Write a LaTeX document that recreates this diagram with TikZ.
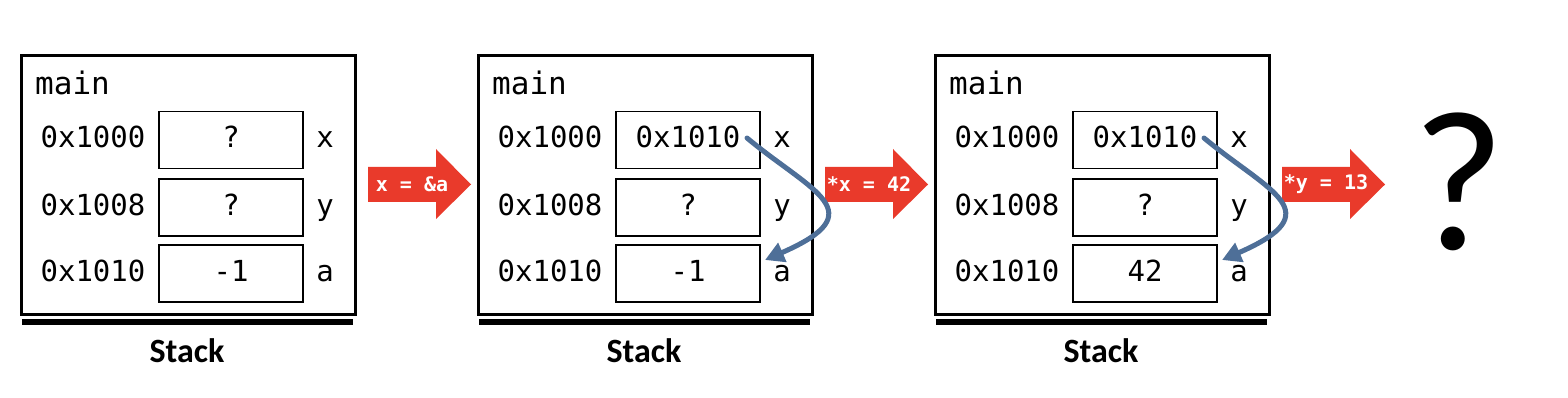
\documentclass[tikz,border=0pt]{standalone}
\usepackage{fontspec}
\setmainfont{Carlito}
\newfontfamily\monof{DejaVu Sans Mono}
\usetikzlibrary{arrows.meta}
\definecolor{redarrow}{RGB}{233,58,43}
\definecolor{bluearrow}{RGB}{78,111,152}
\tikzset{
  outerbox/.style={draw=black, line width=3pt, minimum width=334pt, minimum height=259pt, inner sep=0pt, anchor=north west},
  basebar/.style={draw=black, line width=5.5pt},
  cell/.style={draw=black, line width=1.8pt, minimum width=144pt, minimum height=57pt, inner sep=0pt, text height=18pt, text depth=2pt, font=\monof\fontsize{29}{29}\selectfont},
  monotext/.style={font=\monof\fontsize{29}{29}\selectfont, inner sep=0pt, anchor=base},
  maintext/.style={font=\monof\fontsize{31}{31}\selectfont, inner sep=0pt, anchor=base west},
  stacklabel/.style={font=\bfseries\fontsize{34}{34}\selectfont, inner sep=0pt, anchor=base},
  arrowtext/.style={font=\monof\bfseries\fontsize{20}{20}\selectfont, text=white, inner sep=0pt},
  bluecurve/.style={draw=bluearrow, line width=5pt, line cap=round, -{Triangle[length=19pt,width=20pt]}},
}
\newcommand\StackFrame[5]{%
  \begin{scope}[xshift=#2pt]
    \node[outerbox] (#1-box) at (20,54) {};
    \node[maintext] (#1-main) at (35,95) {main};
    \node[monotext] (#1-ax) at (93,148) {0x1000};
    \node[monotext] (#1-ay) at (93,215) {0x1008};
    \node[monotext] (#1-aa) at (93,281) {0x1010};
    \node[cell] (#1-cx) at (231,140) {#3};
    \node[cell] (#1-cy) at (231,207.5) {#4};
    \node[cell] (#1-ca) at (231,273.5) {#5};
    \node[monotext] (#1-lx) at (325,148) {x};
    \node[monotext] (#1-ly) at (325,215) {y};
    \node[monotext] (#1-la) at (325,281) {a};
    \coordinate (#1-bl) at (22,322);
    \coordinate (#1-br) at (353,322);
    \draw[basebar] (#1-bl) -- (#1-br);
    \node[stacklabel] (#1-stack) at (187,362) {Stack};
  \end{scope}}
\newcommand\RedArrow[3]{%
  \begin{scope}[xshift=#2pt]
    \fill[redarrow] (368,167) -- (436,167) -- (436,149) -- (471,184.5) -- (436,219) -- (436,202) -- (368,202) -- cycle;
    \node[arrowtext] (#1) at (412,184.5) {#3};
  \end{scope}}
\newcommand\PtrCurve[2]{%
  \begin{scope}[xshift=#2pt]
    \coordinate (#1-s) at (290,138);
    \coordinate (#1-e) at (308,260);
    \draw[bluecurve] (#1-s) .. controls (355,192) and (418,212) .. (#1-e);
  \end{scope}}
\begin{document}
\begin{tikzpicture}[x=1pt,y=-1pt]
  \useasboundingbox (0,0) rectangle (1568,398);
  \StackFrame{f1}{0}{?}{?}{-1}
  \StackFrame{f2}{457}{0x1010}{?}{-1}
  \StackFrame{f3}{914}{0x1010}{?}{42}
  \RedArrow{op1}{0}{x = \&a}
  \RedArrow{op2}{457}{*x = 42}
  \RedArrow{op3}{914}{*y = 13}
  \PtrCurve{p2}{457}
  \PtrCurve{p3}{914}
  \node[font=\fontsize{200}{200}\selectfont, inner sep=0pt, anchor=base] (q) at (1459,249) {?};
\end{tikzpicture}
\end{document}
